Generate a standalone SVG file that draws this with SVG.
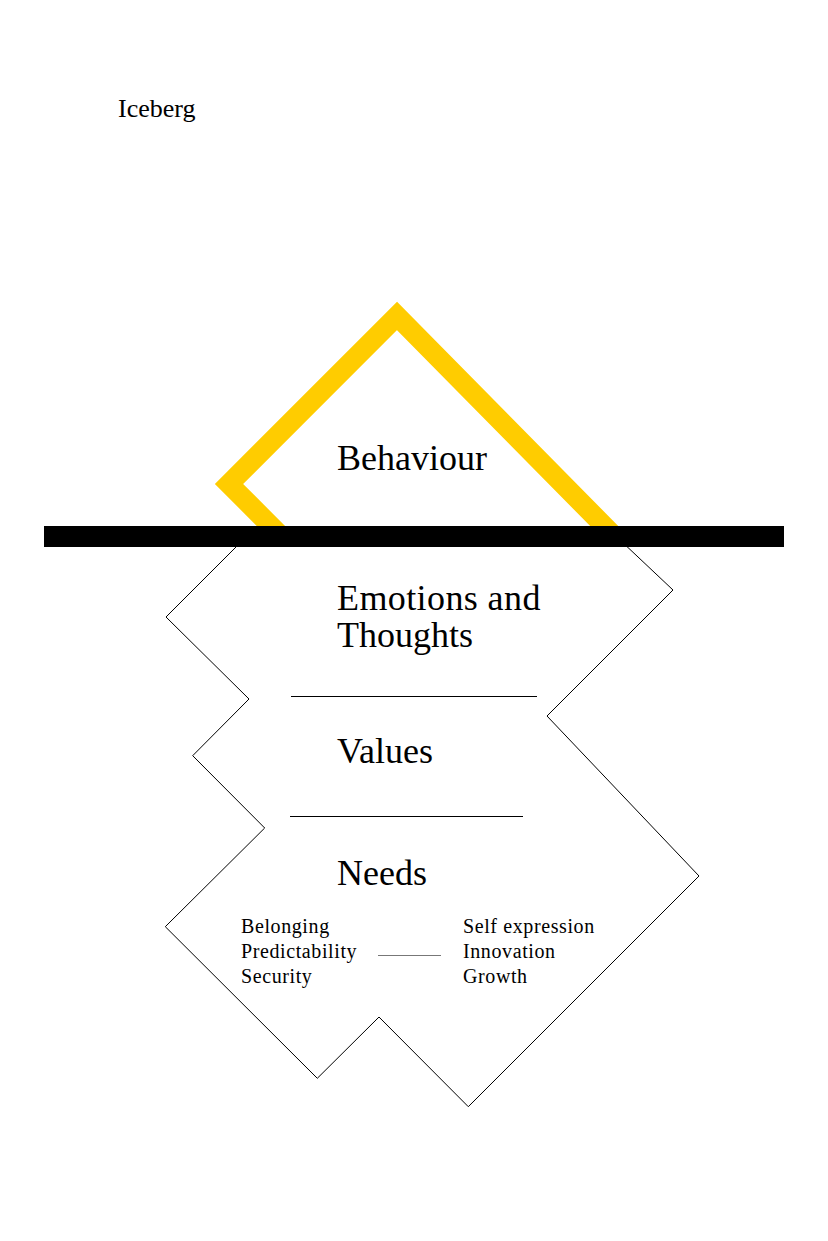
<svg xmlns="http://www.w3.org/2000/svg" width="828" height="1241" viewBox="0 0 828 1241">
  <style>
    .serif { font-family: "Liberation Serif", "Times New Roman", serif; fill: #000; }
    .big { font-size: 36px; }
    .small { font-size: 20px; letter-spacing: 0.6px; }
    .thin { stroke: #000; stroke-width: 1; fill: none; }
  </style>
  <rect x="0" y="0" width="828" height="1241" fill="#fff"/>
  <g id="title">
    <text class="serif" x="118" y="117" font-size="26">Iceberg</text>
  </g>
  <g id="behaviour">
    <polyline points="285,540 229,484 397,316 618,540" fill="none" stroke="#FFCC00" stroke-width="20" stroke-linejoin="miter" stroke-miterlimit="10"/>
    <text class="serif big" x="337" y="470">Behaviour</text>
  </g>
  <g id="iceberg-body">
    <polygon points="243,540 166,617 249,699 192.7,755.7 264.7,828 165.3,926.7 317.3,1078.3 379,1017 468.3,1106.7 699,876 547,716 673,590 620,540" fill="#fff" stroke="#000" stroke-width="1"/>
  </g>
  <g id="waterline">
    <rect x="44" y="526" width="740" height="21" fill="#000"/>
  </g>
  <g id="emotions">
    <text class="serif big" x="337" y="610" letter-spacing="0.4">Emotions and</text>
    <text class="serif big" x="337" y="647">Thoughts</text>
  </g>
  <g id="values">
    <text class="serif big" x="337" y="763">Values</text>
  </g>
  <g id="needs">
    <text class="serif big" x="337" y="885">Needs</text>
    <text class="serif small" x="241" y="933">Belonging</text>
    <text class="serif small" x="241" y="958">Predictability</text>
    <text class="serif small" x="241" y="983">Security</text>
    <text class="serif small" x="463" y="933">Self expression</text>
    <text class="serif small" x="463" y="958">Innovation</text>
    <text class="serif small" x="463" y="983">Growth</text>
  </g>
  <g id="connectors">
    <line class="thin" x1="291" y1="696.5" x2="537" y2="696.5"/>
    <line class="thin" x1="290" y1="816.5" x2="523" y2="816.5"/>
    <line x1="378" y1="955.5" x2="441" y2="955.5" stroke="#777" stroke-width="1"/>
  </g>
</svg>
